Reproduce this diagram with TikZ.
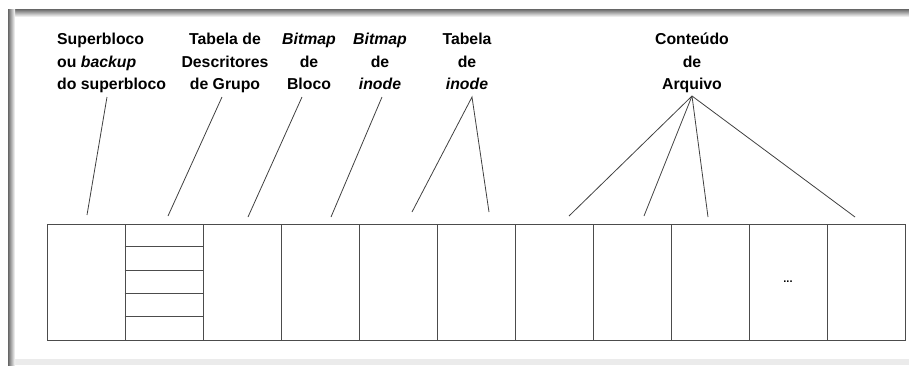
\documentclass[tikz,border=0pt]{standalone}
\usepackage{fontspec}
\setmainfont{Liberation Sans}
\usetikzlibrary{positioning}
\tikzset{
  blk/.style={draw=black!70, line width=0.9pt, minimum width=78pt, minimum height=116pt, inner sep=0pt},
  lbl/.style={font=\fontsize{15.8}{22.5}\selectfont\bfseries, align=center, inner sep=0pt, anchor=north},
  ptr/.style={black!75, line width=0.8pt},
}
\begin{document}
\begin{tikzpicture}[x=1pt, y=-1pt]
	\useasboundingbox (0,0) rectangle (909,365);
	% moldura
	\fill[black!8] (8,359) rectangle (909,365);
	\shade[top color=black!60, bottom color=white] (8,9) rectangle (909,17);
	\shade[left color=black!60, right color=white] (8,9) rectangle (15,365);
	
	% blocos
	\foreach \i in {1,...,11} {
		\node[blk] (b\i) at ({47+78*(\i-0.5)}, 282) {};
	}
	\foreach \k in {1,...,4} {
		\draw[black!70, line width=0.9pt] ([yshift=-23.2*\k pt]b2.north west) -- ([yshift=-23.2*\k pt]b2.north east);
	}
	\node[font=\fontsize{11}{13}\selectfont\bfseries, inner sep=0pt] (dots) at (b10) {...};
	
	% rotulos
	\node[lbl, align=left, anchor=north west] (super) at (57, 33) {Superbloco\\ou \textit{backup}\\do superbloco};
	\node[lbl] (descr) at (225, 33) {Tabela de\\Descritores\\de Grupo};
	\node[lbl] (bmbloco) at (309, 33) {\textit{Bitmap}\\de\\Bloco};
	\node[lbl] (bminode) at (380, 33) {\textit{Bitmap}\\de\\\textit{inode}};
	\node[lbl] (tabinode) at (467, 33) {Tabela\\de\\\textit{inode}};
	\node[lbl] (conteudo) at (692, 33) {Conteúdo\\de\\Arquivo};
	
	% ligacoes
	\coordinate (p1) at (107, 97);  \coordinate (q1) at (87, 215);
	\coordinate (p2) at (222, 97);  \coordinate (q2) at (168, 216);
	\coordinate (p3) at (302, 97);  \coordinate (q3) at (248, 217);
	\coordinate (p4) at (382, 97);  \coordinate (q4) at (331, 217);
	\coordinate (p5) at (472, 97);  \coordinate (q5) at (412, 212);  \coordinate (r5) at (489, 212);
	\coordinate (p6) at (692, 96);
	\coordinate (q6) at (569, 216); \coordinate (r6) at (644, 216);
	\coordinate (s6) at (708, 217); \coordinate (t6) at (855, 217);
	
	\foreach \n in {1,...,4} {
		\draw[ptr] (p\n) -- (q\n);
	}
	\draw[ptr] (q5) -- (p5) -- (r5);
	\foreach \e in {q6, r6, s6, t6} {
		\draw[ptr] (p6) -- (\e);
	}
\end{tikzpicture}
\end{document}
